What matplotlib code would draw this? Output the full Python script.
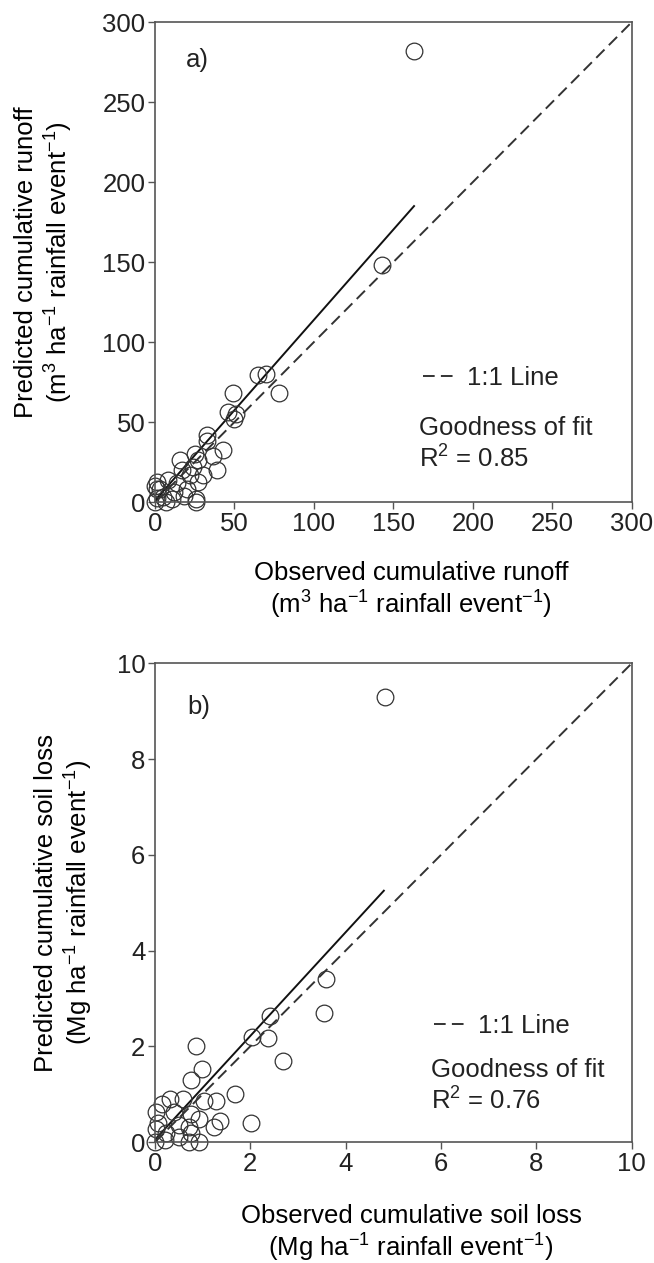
import matplotlib.pyplot as plt
from matplotlib.lines import Line2D

plt.rcParams['font.family'] = ['Liberation Sans', 'DejaVu Sans']
plt.rcParams['mathtext.fontset'] = 'custom'
plt.rcParams['mathtext.rm'] = 'Liberation Sans'
plt.rcParams['mathtext.it'] = 'Liberation Sans:italic'
plt.rcParams['text.color'] = '#222222'

# panel a) runoff, m3 ha-1 rainfall event-1
runoff_obs = [163, 143, 70, 65, 78, 49, 46, 51, 50, 32.5, 43, 36.7, 38.8, 27, 15.7,
              27, 18, 26, 1, 1, 1, 7, 11, 22, 30, 25, 33, 12, 5, 3, 0, 0, 20, 14, 24,
              8, 26, 17]
runoff_pred = [282, 148, 80, 79.5, 68, 68, 56.5, 55, 52, 42, 32.5, 29, 20, 26, 26,
               12.5, 4, 2, 12.5, 8, 2.5, 0, 2, 17, 17, 30, 38, 6, 3, 8, 0, 10, 8, 12, 22,
               14, 0, 20]
runoff_fit_x = [0, 163]
runoff_fit_y = [1, 185]

# panel b) soil loss, Mg ha-1 rainfall event-1
soil_obs = [4.82, 3.58, 3.55, 2.42, 2.03, 2.38, 2.68, 2.01, 0.85, 0.98, 0.76, 1.68,
            1.28, 1.02, 1.24, 1.37, 0.93, 0.72, 0.5, 0.02, 0.15, 0.32, 0.58, 0.4,
            0.76, 0.93, 0.72, 0.02, 0.0, 0.2, 0.06, 0.24, 0.5, 0.76]
soil_pred = [9.30, 3.40, 2.70, 2.63, 2.20, 2.18, 1.69, 0.40, 2.0, 1.52, 1.29, 1.0,
             0.86, 0.86, 0.31, 0.43, 0.0, 0.0, 0.1, 0.62, 0.80, 0.9, 0.9, 0.62,
             0.58, 0.49, 0.31, 0.27, 0.0, 0.05, 0.4, 0.18, 0.35, 0.18]
soil_fit_x = [0, 4.8]
soil_fit_y = [0.05, 5.25]

panels = [
    dict(obs=runoff_obs, pred=runoff_pred, fx=runoff_fit_x, fy=runoff_fit_y,
         lim=300, ticks=[0, 50, 100, 150, 200, 250, 300], tag='a)', r2='0.85',
         xlabel='Observed cumulative runoff\n(m$^3$ ha$^{-1}$ rainfall event$^{-1}$)',
         ylabel='Predicted cumulative runoff\n(m$^3$ ha$^{-1}$ rainfall event$^{-1}$)',
         rect=[0.237, 0.6025, 0.729, 0.380], ylx=-0.168, xly=-0.123,
         tagpos=(0.065, 0.92), legx=0.562, legy=0.259, gx=0.553, gy=0.155, ry=0.09),
    dict(obs=soil_obs, pred=soil_pred, fx=soil_fit_x, fy=soil_fit_y,
         lim=10, ticks=[0, 2, 4, 6, 8, 10], tag='b)', r2='0.76',
         xlabel='Observed cumulative soil loss\n(Mg ha$^{-1}$ rainfall event$^{-1}$)',
         ylabel='Predicted cumulative soil loss\n(Mg ha$^{-1}$ rainfall event$^{-1}$)',
         rect=[0.237, 0.0958, 0.729, 0.379], ylx=-0.125, xly=-0.13,
         tagpos=(0.067, 0.909), legx=0.585, legy=0.242, gx=0.578, gy=0.15, ry=0.086),
]

fig = plt.figure(figsize=(6.54, 12.63), dpi=100)
dash = (0, (6, 3.2))

for p in panels:
    ax = fig.add_axes(p['rect'])
    lim = p['lim']
    ax.plot([0, lim], [0, lim], ls=dash, color='#333333', lw=1.4)
    ax.plot(p['fx'], p['fy'], color='#111111', lw=1.4)
    ax.plot(p['obs'], p['pred'], ls='none', marker='o', ms=12, mfc='none',
            mec='#333333', mew=0.9, clip_on=False)
    ax.set_xlim(0, lim)
    ax.set_ylim(0, lim)
    ax.set_xticks(p['ticks'])
    ax.set_yticks(p['ticks'])
    ax.tick_params(direction='out', length=5, width=1, colors='#555555',
                   labelcolor='#222222', labelsize=18.5, pad=2)
    for s in ax.spines.values():
        s.set_color('#555555')
        s.set_linewidth(1.2)
    ax.set_xlabel(p['xlabel'], fontsize=18.5, linespacing=1.15)
    ax.set_ylabel(p['ylabel'], fontsize=18.5, linespacing=1.2)
    ax.xaxis.set_label_coords(0.537, p['xly'])
    ax.yaxis.set_label_coords(p['ylx'], 0.5)

    ax.text(p['tagpos'][0], p['tagpos'][1], p['tag'], transform=ax.transAxes,
            fontsize=18.5, va='center', ha='left')
    h = Line2D([], [], ls=dash, color='#333333', lw=1.4)
    ax.legend(handles=[h], labels=['1:1 Line'], loc='center left',
              bbox_to_anchor=(p['legx'], p['legy']), frameon=False,
              fontsize=18.5, handlelength=1.2, handletextpad=0.5,
              borderaxespad=0, borderpad=0)
    ax.text(p['gx'], p['gy'], 'Goodness of fit', transform=ax.transAxes,
            fontsize=18.5, va='center', ha='left')
    ax.text(p['gx'], p['ry'], 'R$^2$ = ' + p['r2'], transform=ax.transAxes,
            fontsize=18.5, va='center', ha='left')

fig.savefig('out.png', dpi=100)
